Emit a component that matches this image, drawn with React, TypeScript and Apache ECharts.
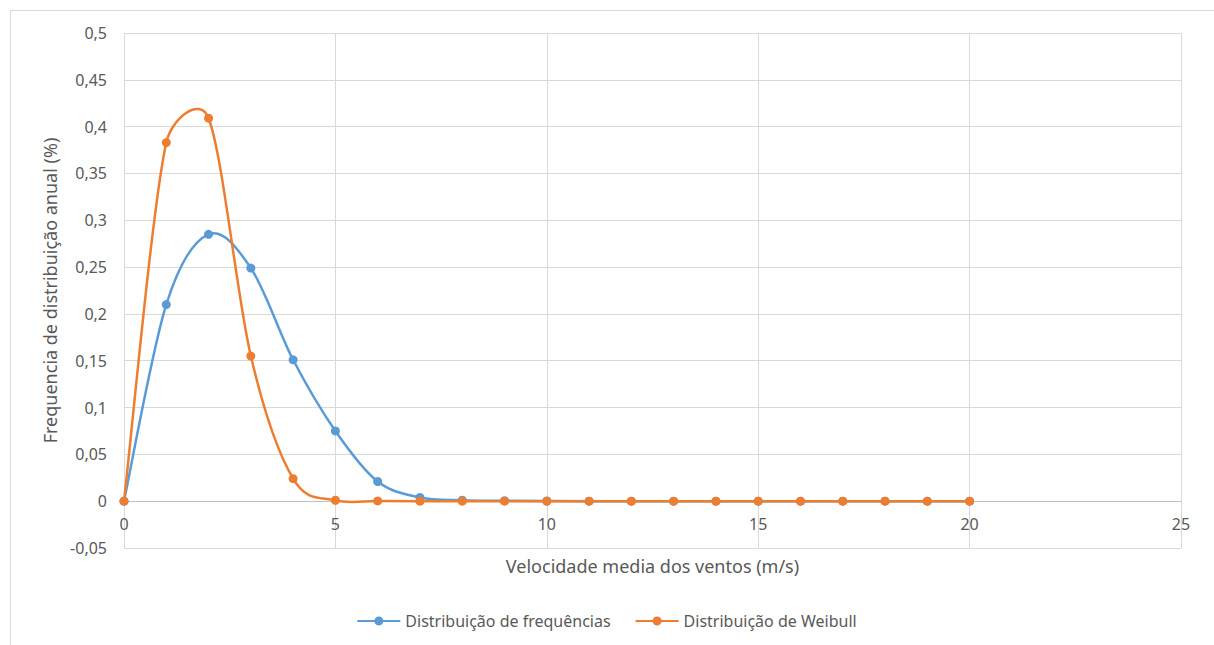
import React, { useEffect, useRef } from "react";
import * as echarts from "echarts";

// Wind speed classes (m/s)
const speeds = [0, 1, 2, 3, 4, 5, 6, 7, 8, 9, 10, 11, 12, 13, 14, 15, 16, 17, 18, 19, 20];

// Observed frequency distribution
const frequencias = [0, 0.21, 0.285, 0.249, 0.151, 0.075, 0.021, 0.004, 0.001, 0.0005, 0.0002, 0, 0, 0, 0, 0, 0, 0, 0, 0, 0];

// Fitted Weibull distribution
const weibull = [0, 0.383, 0.409, 0.155, 0.024, 0.001, 0.0003, 0, 0, 0, 0, 0, 0, 0, 0, 0, 0, 0, 0, 0, 0];

const seriesNames = ["Distribuição de frequências", "Distribuição de Weibull"];
const seriesColors = ["#5B9BD5", "#ED7D31"];

const FONT = "'Noto Sans', 'Open Sans', sans-serif";
const TEXT = "#595959";

// legend glyph: a short line with a dot in the middle
const LEGEND_ICON =
  "path://M0,3.5H43V5.5H0Z M17,4.5A4.5,4.5 0 1,1 26,4.5A4.5,4.5 0 1,1 17,4.5Z";

const fmt = (v: number) => {
  const r = Math.round(v * 1000) / 1000;
  return String(r).replace(".", ",");
};

type Pt = number[];
const dist = (a: Pt, b: Pt) => Math.hypot(b[0] - a[0], b[1] - a[1]);

// Bezier control points around p1 (spreadsheet-style smoothing: 1/6 of the
// neighbour chord, shortened next to a much shorter segment)
function controls(p0: Pt, p1: Pt, p2: Pt): [Pt, Pt] {
  const d01 = dist(p0, p1);
  const d12 = dist(p1, p2);
  const d02 = dist(p0, p2);
  if (d02 === 0) return [p1, p1];
  let fBefore = 1 / 6;
  let fAfter = 1 / 6;
  if (d01 / 6 >= d12 / 2) fAfter = d12 / d02 / 2;
  if (d12 / 6 >= d01 / 2) fBefore = d01 / d02 / 2;
  const vx = p2[0] - p0[0];
  const vy = p2[1] - p0[1];
  return [
    [p1[0] - vx * fBefore, p1[1] - vy * fBefore],
    [p1[0] + vx * fAfter, p1[1] + vy * fAfter],
  ];
}

function smoothPath(pts: Pt[]): string {
  const n = pts.length;
  const ctl = pts.map((p, i) =>
    controls(pts[Math.max(0, i - 1)], p, pts[Math.min(n - 1, i + 1)])
  );
  let d = `M${pts[0][0]},${pts[0][1]}`;
  for (let i = 0; i < n - 1; i++) {
    const a = ctl[i][1];
    const b = ctl[i + 1][0];
    const p = pts[i + 1];
    d += ` C${a[0]},${a[1]} ${b[0]},${b[1]} ${p[0]},${p[1]}`;
  }
  return d;
}

export default function App() {
  const ref = useRef<HTMLDivElement>(null);

  useEffect(() => {
    if (!ref.current) return;
    const chart = echarts.init(ref.current, null, { renderer: "svg" });

    const curve = (i: number, vals: number[]) => ({
      name: seriesNames[i],
      type: "custom",
      coordinateSystem: "cartesian2d",
      data: [[speeds[0], vals[0]]],
      z: 2 + i * 2,
      silent: true,
      renderItem: (_params: any, api: any) => {
        const pts = speeds.map((s, k) => api.coord([s, vals[k]]));
        return {
          type: "path",
          shape: { pathData: smoothPath(pts) },
          style: { stroke: seriesColors[i], lineWidth: 2.5, fill: "none" },
        };
      },
    });

    const markers = (i: number, vals: number[]) => ({
      name: seriesNames[i],
      type: "scatter",
      data: speeds.map((s, k) => [s, vals[k]]),
      symbol: "circle",
      symbolSize: 9,
      itemStyle: { color: seriesColors[i], opacity: 1 },
      z: 3 + i * 2,
    });

    chart.setOption({
      animation: false,
      backgroundColor: "#ffffff",
      textStyle: { fontFamily: FONT },
      graphic: [
        {
          type: "rect",
          shape: { x: 10.5, y: 10.5, width: 1212, height: 650 },
          style: { fill: "none", stroke: "#d9d9d9", lineWidth: 1 },
          silent: true,
        },
      ],
      grid: { left: 124, right: 33, top: 33, bottom: 97 },
      legend: {
        bottom: 11,
        left: "center",
        itemWidth: 43,
        itemHeight: 9,
        itemGap: 25,
        textStyle: { color: TEXT, fontSize: 16, fontFamily: FONT },
        data: seriesNames.map((name, i) => ({
          name,
          icon: LEGEND_ICON,
          itemStyle: { color: seriesColors[i] },
        })),
      },
      xAxis: {
        type: "value",
        min: 0,
        max: 25,
        interval: 5,
        // horizontal axis crosses the vertical one at zero
        offset: -47,
        name: "Velocidade media dos ventos (m/s)",
        nameLocation: "middle",
        nameGap: 56,
        nameTextStyle: { color: TEXT, fontSize: 18, fontFamily: FONT },
        axisLine: { onZero: false, lineStyle: { color: "#bfbfbf", width: 1 } },
        axisTick: { show: false },
        axisLabel: { color: TEXT, fontSize: 16, margin: 15 },
        splitLine: { show: true, lineStyle: { color: "#d9d9d9", width: 1 } },
      },
      yAxis: {
        type: "value",
        min: -0.05,
        max: 0.5,
        interval: 0.05,
        name: "Frequencia de distribuição anual (%)",
        nameLocation: "middle",
        nameGap: 64,
        nameTextStyle: { color: TEXT, fontSize: 18, fontFamily: FONT },
        axisLine: { show: false },
        axisTick: { show: false },
        axisLabel: { color: TEXT, fontSize: 16, margin: 17, formatter: fmt },
        splitLine: { show: true, lineStyle: { color: "#d9d9d9", width: 1 } },
      },
      series: [
        curve(0, frequencias),
        markers(0, frequencias),
        curve(1, weibull),
        markers(1, weibull),
      ],
    });
    return () => chart.dispose();
  }, []);

  return (
    <div
      ref={ref}
      style={{ position: "fixed", left: 0, top: 0, width: 1214, height: 645 }}
    />
  );
}
